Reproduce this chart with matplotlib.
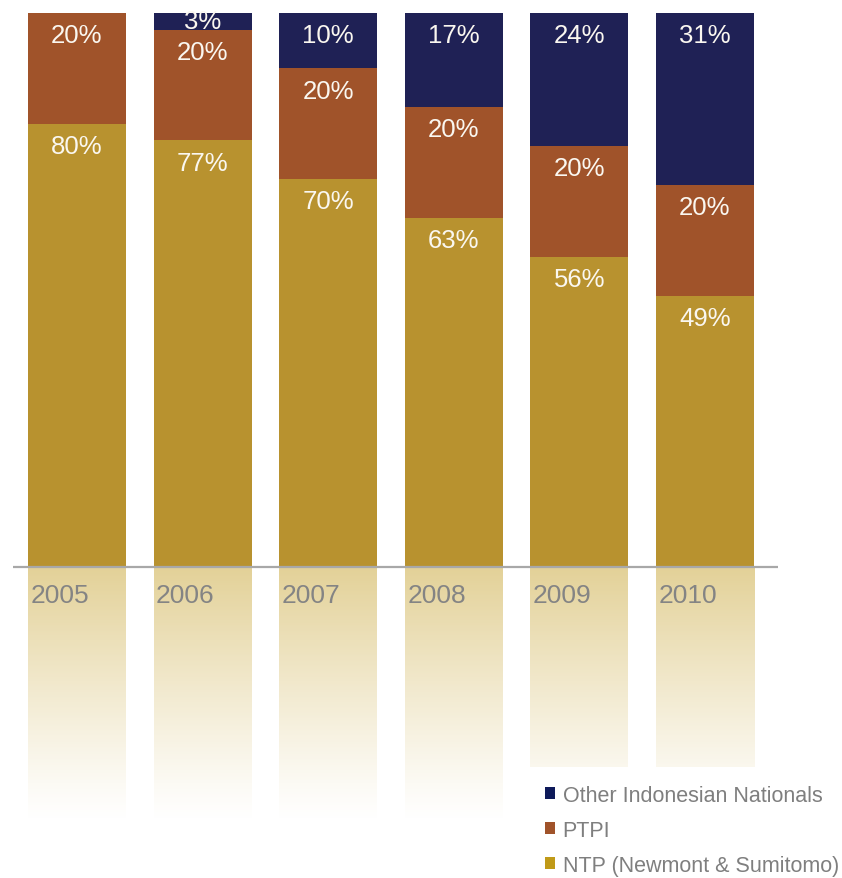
import numpy as np
import matplotlib
matplotlib.use("Agg")
import matplotlib.pyplot as plt
from matplotlib.patches import Patch

plt.rcParams['font.family'] = ['Liberation Sans', 'DejaVu Sans']

years = ['2005', '2006', '2007', '2008', '2009', '2010']
ntp = [80, 77, 70, 63, 56, 49]
ptpi = [20, 20, 20, 20, 20, 20]
other = [0, 3, 10, 17, 24, 31]

series_names = ['NTP (Newmont & Sumitomo)', 'PTPI', 'Other Indonesian Nationals']
colors = ['#B8922F', '#A0532A', '#1F2155']
legend_colors = ['#C09A18', '#A0532A', '#0E1A5A']

W, H = 842, 879
fig = plt.figure(figsize=(W / 100, H / 100), dpi=100)
ax = fig.add_axes([0, 0, 1, 1])

# pixel layout of the reference: 0% at y=568, 100% at y=14, bar pitch ~125.6 px
py_per_unit = (568 - 14) / 100.0
px_per_bar = 125.6
x0 = 77
ax.set_xlim(-x0 / px_per_bar, (W - x0) / px_per_bar)
ax.set_ylim(-(H - 568) / py_per_unit, 100 + 14 / py_per_unit)
ax.axis('off')

x = np.arange(len(years))
width = 98 / px_per_bar

bottoms = np.zeros(len(years))
for vals, col in zip([ntp, ptpi, other], colors):
    vals = np.array(vals, dtype=float)
    ax.bar(x, vals, width, bottom=bottoms, color=col, edgecolor='none', zorder=2)
    for xi, b, v in zip(x, bottoms, vals):
        if v <= 0:
            continue
        top = b + v
        ty = top - min(4.0, v / 2)
        ax.text(xi, ty, f"{int(v)}%", ha='center', va='center', color='#FAF7F0',
                fontsize=18.5, zorder=3)
    bottoms += vals

# reflection under each bar fading to white
fade_depth = (822 - 568) / py_per_unit
gold = np.array([0.86, 0.77, 0.48])
for xi in x:
    depth = fade_depth if xi < 4 else (768 - 568) / py_per_unit
    n = 200
    t = np.linspace(0, depth / fade_depth, n)[:, None]
    alpha = np.clip(0.78 * (1 - t) ** 1.15, 0, 1)
    img = np.zeros((n, 1, 4))
    img[..., :3] = gold
    img[..., 3] = alpha
    ax.imshow(img, extent=[xi - width / 2, xi + width / 2, -depth, 0],
              aspect='auto', origin='upper', interpolation='bilinear', zorder=1)

# baseline
ax.plot([(13 - x0) / px_per_bar, (778 - x0) / px_per_bar], [0, 0],
        color='#A8A8A8', lw=1.6, zorder=3, solid_capstyle='butt')

# year labels
for xi, yr in zip(x, years):
    ax.text(xi - width / 2 + 0.02, -(596 - 568) / py_per_unit, yr, ha='left',
            va='center', color='#848484', fontsize=19, zorder=3)

handles = [Patch(facecolor=c, edgecolor='none') for c in legend_colors[::-1]]
leg = ax.legend(handles, series_names[::-1], loc='upper left',
                bbox_to_anchor=(545 / W, 1 - 786 / H), bbox_transform=fig.transFigure,
                frameon=False, fontsize=15.5, handlelength=0.47, handleheight=0.47,
                handletextpad=0.35, labelspacing=0.64, borderpad=0, borderaxespad=0)
for t in leg.get_texts():
    t.set_color('#7F7F7F')

fig.savefig('out.png', dpi=100, facecolor='white')
